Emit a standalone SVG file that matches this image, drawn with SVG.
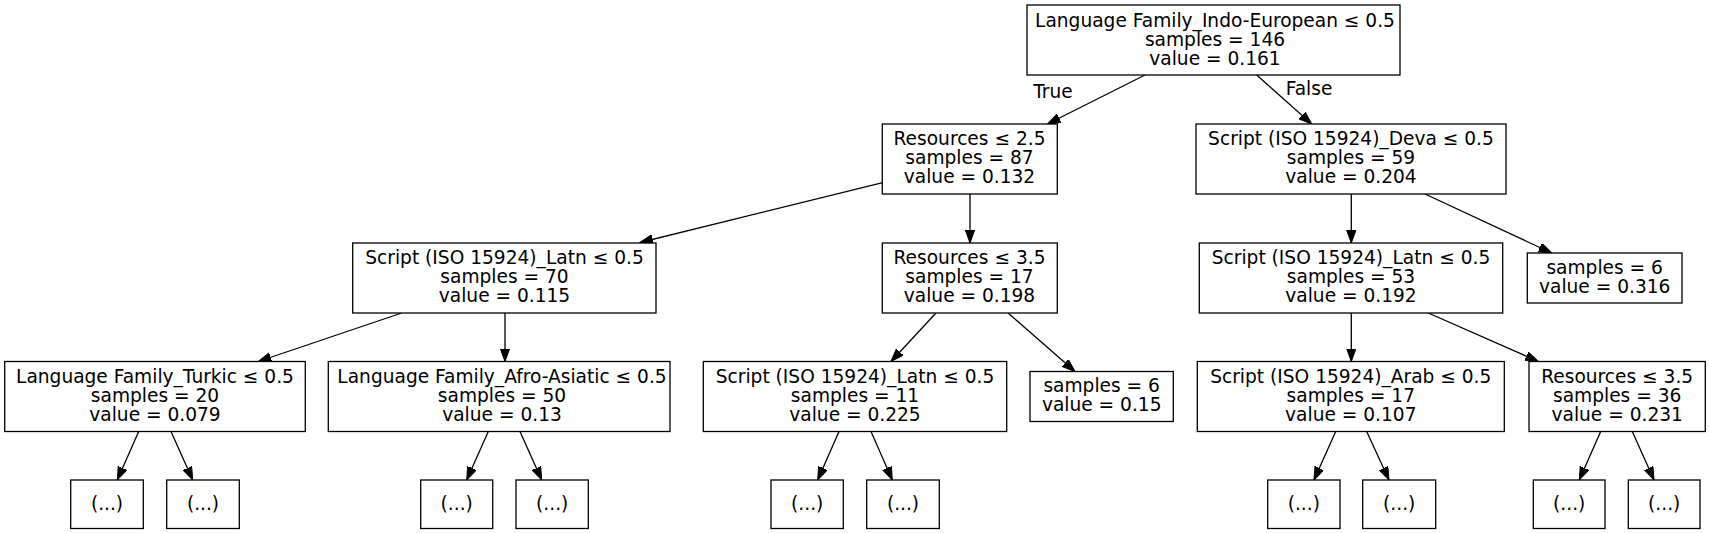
<svg xmlns="http://www.w3.org/2000/svg" width="1709" height="533" viewBox="0 0 1709 533">
<style>
.box{fill:#fff;stroke:#000;stroke-width:1.3}
.t{font-family:"DejaVu Sans","Liberation Sans",sans-serif;font-size:18.6px;fill:#000;text-anchor:middle}
.e{stroke:#000;stroke-width:1.3;fill:none;marker-end:url(#ah)}
</style>
<defs>
<marker id="ah" markerUnits="userSpaceOnUse" markerWidth="14" markerHeight="10" refX="13" refY="4.7" orient="auto">
<path d="M0,0 L13,4.7 L0,9.4 z" fill="#000" stroke="#000" stroke-width="1"/>
</marker>
</defs>
<rect width="1709" height="533" fill="#fff"/>
<g id="connectors">
<line class="e" x1="1145" y1="75" x2="1047.5" y2="124"/>
<line class="e" x1="1256.7" y1="75" x2="1311.7" y2="124"/>
<line class="e" x1="882.7" y1="182.7" x2="640" y2="242.5"/>
<line class="e" x1="970" y1="194" x2="970" y2="243"/>
<line class="e" x1="1351.3" y1="194" x2="1351.3" y2="243"/>
<line class="e" x1="1425" y1="194" x2="1551.7" y2="253"/>
<line class="e" x1="401.7" y1="313" x2="258.3" y2="361.5"/>
<line class="e" x1="505" y1="313" x2="505" y2="361.5"/>
<line class="e" x1="936" y1="313" x2="891" y2="361.5"/>
<line class="e" x1="1008" y1="313" x2="1075" y2="371.5"/>
<line class="e" x1="1351.3" y1="313" x2="1351.3" y2="361.5"/>
<line class="e" x1="1428.3" y1="313" x2="1538.3" y2="361.5"/>
<line class="e" x1="138.7" y1="431.5" x2="117.3" y2="480"/>
<line class="e" x1="171" y1="431.5" x2="192.7" y2="480"/>
<line class="e" x1="488.3" y1="431.5" x2="466.7" y2="480"/>
<line class="e" x1="520" y1="431.5" x2="541.7" y2="480"/>
<line class="e" x1="839" y1="431.5" x2="817.7" y2="480"/>
<line class="e" x1="871" y1="431.5" x2="892.3" y2="480"/>
<line class="e" x1="1335.7" y1="431.5" x2="1314" y2="480"/>
<line class="e" x1="1366.7" y1="431.5" x2="1389" y2="480"/>
<line class="e" x1="1600.7" y1="431.5" x2="1579.3" y2="480"/>
<line class="e" x1="1632.3" y1="431.5" x2="1654" y2="480"/>
<text class="t" x="1053" y="97.5">True</text>
<text class="t" x="1309" y="94.5">False</text>
</g>
<g id="n0"><rect class="box" x="1027" y="5" width="373" height="70"/>
<text class="t" x="1215" y="26.5">Language Family_Indo-European ≤ 0.5</text>
<text class="t" x="1215" y="45.5">samples = 146</text>
<text class="t" x="1215" y="64.5">value = 0.161</text></g>
<g id="n1"><rect class="box" x="882.3" y="124" width="175" height="70"/>
<text class="t" x="969.5" y="145">Resources ≤ 2.5</text>
<text class="t" x="969.5" y="164">samples = 87</text>
<text class="t" x="969.5" y="183">value = 0.132</text></g>
<g id="n2"><rect class="box" x="1196" y="124" width="310" height="70"/>
<text class="t" x="1351" y="145">Script (ISO 15924)_Deva ≤ 0.5</text>
<text class="t" x="1351" y="164">samples = 59</text>
<text class="t" x="1351" y="183">value = 0.204</text></g>
<g id="n3"><rect class="box" x="352.7" y="243" width="303.3" height="70"/>
<text class="t" x="504.5" y="264">Script (ISO 15924)_Latn ≤ 0.5</text>
<text class="t" x="504.5" y="283">samples = 70</text>
<text class="t" x="504.5" y="302">value = 0.115</text></g>
<g id="n4"><rect class="box" x="882.3" y="243" width="175" height="70"/>
<text class="t" x="969.5" y="264">Resources ≤ 3.5</text>
<text class="t" x="969.5" y="283">samples = 17</text>
<text class="t" x="969.5" y="302">value = 0.198</text></g>
<g id="n5"><rect class="box" x="1199.3" y="243" width="303.4" height="70"/>
<text class="t" x="1351" y="264">Script (ISO 15924)_Latn ≤ 0.5</text>
<text class="t" x="1351" y="283">samples = 53</text>
<text class="t" x="1351" y="302">value = 0.192</text></g>
<g id="n6"><rect class="box" x="1527.3" y="253" width="154.7" height="50"/>
<text class="t" x="1604.7" y="273.5">samples = 6</text>
<text class="t" x="1604.7" y="292.5">value = 0.316</text></g>
<g id="n7"><rect class="box" x="4.7" y="361.5" width="300.6" height="70"/>
<text class="t" x="155" y="382.5">Language Family_Turkic ≤ 0.5</text>
<text class="t" x="155" y="401.5">samples = 20</text>
<text class="t" x="155" y="420.5">value = 0.079</text></g>
<g id="n8"><rect class="box" x="328.3" y="361.5" width="341.7" height="70"/>
<text class="t" x="502" y="382.5">Language Family_Afro-Asiatic ≤ 0.5</text>
<text class="t" x="502" y="401.5">samples = 50</text>
<text class="t" x="502" y="420.5">value = 0.13</text></g>
<g id="n9"><rect class="box" x="703.3" y="361.5" width="303.4" height="70"/>
<text class="t" x="855" y="382.5">Script (ISO 15924)_Latn ≤ 0.5</text>
<text class="t" x="855" y="401.5">samples = 11</text>
<text class="t" x="855" y="420.5">value = 0.225</text></g>
<g id="n10"><rect class="box" x="1030" y="371.5" width="143.3" height="50"/>
<text class="t" x="1101.7" y="392">samples = 6</text>
<text class="t" x="1101.7" y="411">value = 0.15</text></g>
<g id="n11"><rect class="box" x="1197.3" y="361.5" width="307" height="70"/>
<text class="t" x="1350.8" y="382.5">Script (ISO 15924)_Arab ≤ 0.5</text>
<text class="t" x="1350.8" y="401.5">samples = 17</text>
<text class="t" x="1350.8" y="420.5">value = 0.107</text></g>
<g id="n12"><rect class="box" x="1529" y="361.5" width="176.3" height="70"/>
<text class="t" x="1617.2" y="382.5">Resources ≤ 3.5</text>
<text class="t" x="1617.2" y="401.5">samples = 36</text>
<text class="t" x="1617.2" y="420.5">value = 0.231</text></g>
<g id="l1"><rect class="box" x="70.7" y="480" width="72.6" height="48.5"/><text class="t" x="107" y="509.5">(...)</text></g>
<g id="l2"><rect class="box" x="166.7" y="480" width="72.6" height="48.5"/><text class="t" x="203" y="509.5">(...)</text></g>
<g id="l3"><rect class="box" x="420.7" y="480" width="72" height="48.5"/><text class="t" x="456.7" y="509.5">(...)</text></g>
<g id="l4"><rect class="box" x="516" y="480" width="72.3" height="48.5"/><text class="t" x="552.2" y="509.5">(...)</text></g>
<g id="l5"><rect class="box" x="771" y="480" width="72.3" height="48.5"/><text class="t" x="807.2" y="509.5">(...)</text></g>
<g id="l6"><rect class="box" x="866.7" y="480" width="72.6" height="48.5"/><text class="t" x="903" y="509.5">(...)</text></g>
<g id="l7"><rect class="box" x="1267.7" y="480" width="72.3" height="48.5"/><text class="t" x="1303.8" y="509.5">(...)</text></g>
<g id="l8"><rect class="box" x="1362.7" y="480" width="73" height="48.5"/><text class="t" x="1399.2" y="509.5">(...)</text></g>
<g id="l9"><rect class="box" x="1533.3" y="480" width="71.7" height="48.5"/><text class="t" x="1569.2" y="509.5">(...)</text></g>
<g id="l10"><rect class="box" x="1628.3" y="480" width="71.7" height="48.5"/><text class="t" x="1664.2" y="509.5">(...)</text></g>
</svg>
